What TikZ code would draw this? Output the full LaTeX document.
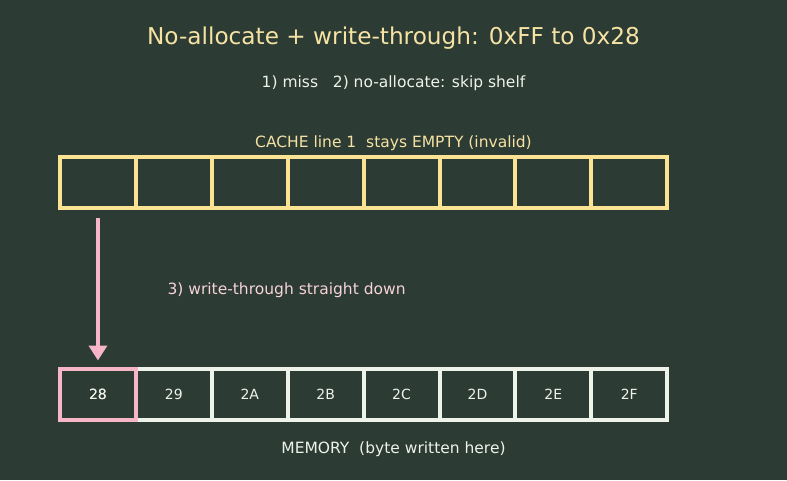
\documentclass[tikz,border=0pt]{standalone}
\usepackage{fontspec}
\setmainfont{DejaVu Sans}
\usetikzlibrary{arrows.meta}

\definecolor{bg}{HTML}{2C3B34}
\definecolor{cacheyellow}{HTML}{FBE393}
\definecolor{titleyellow}{HTML}{F6E3A4}
\definecolor{memwhite}{HTML}{EEF3E9}
\definecolor{hitpink}{HTML}{F7B6C8}
\definecolor{notepink}{HTML}{F6D3DA}

\tikzset{
  cell/.style={draw, line width=4pt, minimum width=75.9pt, minimum height=51pt,
    inner sep=0pt, font=\fontsize{14}{16}\selectfont, text=memwhite},
  label/.style={font=\fontsize{15.5}{18}\selectfont}
}

\begin{document}
\begin{tikzpicture}[x=1pt,y=-1pt]

  \fill[bg] (0,0) rectangle (787,480);
  \useasboundingbox (0,0) rectangle (787,480);

  \node[font=\fontsize{23.2}{27}\selectfont, text=titleyellow] (title) at (393.5,38.5)
    {No-allocate + write-through: 0xFF to 0x28};
  \node[label, text=memwhite] (steps) at (393.5,83)
    {1)~miss~~~2)~no-allocate: skip shelf};

  % cache line, all empty
  \node[label, text=titleyellow] (cachelbl) at (393.5,143)
    {CACHE line 1~~stays EMPTY (invalid)};
  \foreach \i in {0,...,7}
    \node[cell, draw=cacheyellow] (c\i) at (60+75.9*\i+37.95,182.5) {};

  % memory bytes 0x28 .. 0x2F
  \foreach \i/\b in {0/28, 1/29, 2/2A, 3/2B, 4/2C, 5/2D, 6/2E, 7/2F}
    \node[cell, draw=memwhite] (m\i) at (60+75.9*\i+37.95,394) {\b};
  \node[cell, draw=hitpink] (m0) at (97.95,394) {28};
  \node[label, text=memwhite] (memlbl) at (393.5,449)
    {MEMORY~~(byte written here)};

  \draw[hitpink, line width=4pt, shorten <=8pt, shorten >=6pt,
    -{Triangle[length=15pt,width=18pt]}] (c0.south) -- (m0.north);
  \node[label, text=notepink, anchor=west] (note) at (164,290)
    {3) write-through straight down};

\end{tikzpicture}
\end{document}
